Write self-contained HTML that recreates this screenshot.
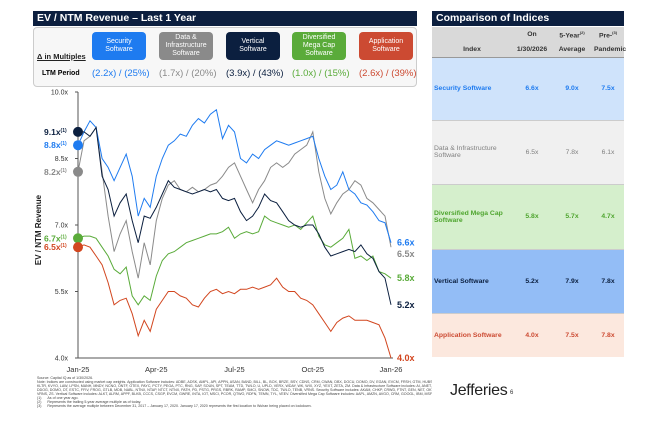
<!DOCTYPE html>
<html><head><meta charset="utf-8">
<style>
body{margin:0;width:655px;height:422px;background:#fff;font-family:"Liberation Sans",sans-serif;position:relative;overflow:hidden}
.abs{position:absolute}
.hdr{background:#0c1f3f;color:#fff;font-weight:bold;font-size:10.5px;line-height:15px;padding-left:4px}
.lg{position:absolute;top:32px;width:54px;height:28px;border-radius:4px;color:#fff;font-size:7px;line-height:8px;text-align:center;display:flex;align-items:center;justify-content:center}
.ltm{position:absolute;top:68px;font-size:9.5px}
.fn{position:absolute;left:37px;width:395px;overflow:hidden;font-size:3.6px;color:#444;white-space:nowrap;line-height:4px}
table{border-collapse:collapse;font-size:6.8px}
td{padding:0 2px}
</style></head><body>
<div class="abs hdr" style="left:33px;top:11px;width:380px;">EV / NTM Revenue – Last 1 Year</div>
<div class="abs" style="left:33px;top:27px;width:382px;height:58px;border:1px solid #ccc;border-radius:4px;background:#f7f7f7"></div>
<div class="abs" style="left:37px;top:52px;font-size:7.5px;font-weight:bold;text-decoration:underline;color:#222">Δ in Multiples</div>
<div class="lg" style="left:92px;background:#1e7bf0">Security<br>Software</div>
<div class="lg" style="left:159px;background:#8a8a8a">Data &amp;<br>Infrastructure<br>Software</div>
<div class="lg" style="left:226px;background:#0b1f3f">Vertical<br>Software</div>
<div class="lg" style="left:292px;background:#5aab3a">Diversified<br>Mega Cap<br>Software</div>
<div class="lg" style="left:359px;background:#cc4a32">Application<br>Software</div>
<div class="ltm" style="left:42px;font-size:7px;font-weight:bold;top:70px">LTM Period</div>
<div class="ltm" style="left:92px;color:#1e7bf0">(2.2x) / (25%)</div>
<div class="ltm" style="left:159px;color:#8a8a8a">(1.7x) / (20%)</div>
<div class="ltm" style="left:226px;color:#0b1f3f">(3.9x) / (43%)</div>
<div class="ltm" style="left:292px;color:#5aab3a">(1.0x) / (15%)</div>
<div class="ltm" style="left:359px;color:#cc4a32">(2.6x) / (39%)</div>

<svg class="abs" style="left:0;top:0" width="655" height="422">
<g id="plot"></g>
<text x="41" y="230" transform="rotate(-90 41 230)" text-anchor="middle" font-size="8" font-weight="bold" fill="#222">EV / NTM Revenue</text>
</svg>

<div class="abs hdr" style="left:432px;top:11px;width:188px;">Comparison of Indices</div>
<table class="abs" style="left:432px;top:27px;width:192px;table-layout:fixed">
<colgroup><col style="width:80px"><col style="width:40px"><col style="width:40px"><col style="width:32px"></colgroup>
<tr style="background:#d9d9d9;height:15px;font-weight:bold;color:#333;text-align:center"><td></td><td>On</td><td>5-Year<sup style="font-size:4px">(2)</sup></td><td>Pre-<sup style="font-size:4px">(3)</sup></td></tr>
<tr style="background:#d9d9d9;height:15px;font-weight:bold;color:#333;text-align:center;border-bottom:1px solid #999"><td>Index</td><td>1/30/2026</td><td>Average</td><td>Pandemic</td></tr>
<tr style="background:#cfe3fb;height:63px;color:#1e7bf0;font-weight:bold;text-align:center;border-bottom:1px solid #ccc"><td style="text-align:left">Security Software</td><td>6.6x</td><td>9.0x</td><td>7.5x</td></tr>
<tr style="background:#f0f0f0;height:64px;color:#808080;text-align:center;border-bottom:1px solid #ccc"><td style="text-align:left">Data &amp; Infrastructure Software</td><td>6.5x</td><td>7.8x</td><td>6.1x</td></tr>
<tr style="background:#d5efcc;height:65px;color:#4fa52f;font-weight:bold;text-align:center;border-bottom:1px solid #ccc"><td style="text-align:left">Diversified Mega Cap Software</td><td>5.8x</td><td>5.7x</td><td>4.7x</td></tr>
<tr style="background:#93bdf6;height:64px;color:#0b1f3f;font-weight:bold;text-align:center;border-bottom:1px solid #ccc"><td style="text-align:left">Vertical Software</td><td>5.2x</td><td>7.9x</td><td>7.8x</td></tr>
<tr style="background:#fce8de;height:44px;color:#cc4a32;font-weight:bold;text-align:center"><td style="text-align:left">Application Software</td><td>4.0x</td><td>7.5x</td><td>7.8x</td></tr>
</table>

<div class="fn" style="top:376px">Source: Capital IQ as of 1/30/2026.<br>Note: Indices are constructed using market cap weights. Application Software includes: ADBE, ADSK, AMPL, API, APPN, ASAN, BAND, BILL, BL, BOX, BRZE, BSY, CDNS, CRM, CWAN, DBX, DOCU, DOMO, DV, EGAN, EVCM, FRSH, GTM, HUBS, INTU, KVYO, FIVN, FROG<br>KLTR, KVYO, LAW, LPSN, MANH, MNDY, NCNO, ONTF, OTEX, PAYC, PCTY, PEGA, PTC, RNG, SAP, SOUN, SPT, TEAM, TTD, TWLO, U, UPLD, VERX, WDAY, WK, WIX, XYZ, YEXT, ZETA, ZM. Data & Infrastructure Software includes: AI, ANET,<br>DDOG, DOMO, DT, ESTC, FFIV, FROG, GTLB, MDB, NABL, NTNX, NTAP, NTCT, NTNX, PATH, PD, PSTG, PRGS, RBRK, RAMP, SMCI, SNOW, TDC, TWLO, TENB, VRNS. Security Software includes: AKAM, CHKP, CRWD, FTNT, GEN, NET, OKTA, PANW, QLYS, RPD, S, ZS<br>VRNS, ZS. Vertical Software includes: ALKT, ALRM, APPF, BLKB, CCCS, CSGP, EVCM, GWRE, INTA, IOT, MSCI, PCOR, QTWO, RDFN, TEMN, TYL, VEEV. Diversified Mega Cap Software includes: AAPL, AMZN, AVGO, CRM, GOOGL, IBM, MSFT, ORCL, SAP.<br>(1)&nbsp;&nbsp;&nbsp;&nbsp;&nbsp;&nbsp;As of one year ago.<br>(2)&nbsp;&nbsp;&nbsp;&nbsp;&nbsp;&nbsp;Represents the trailing 5-year average multiple as of today.<br>(3)&nbsp;&nbsp;&nbsp;&nbsp;&nbsp;&nbsp;Represents the average multiple between December 31, 2017 – January 17, 2020. January 17, 2020 represents the first location to Wuhan being placed on lockdown.</div>
<div class="abs" style="left:450px;top:382px;font-size:16px;color:#222;letter-spacing:-0.3px">Jefferies</div>
<div class="abs" style="left:510px;top:390px;font-size:6px;color:#333">6</div>

<script>
const xTickLabels=["Jan-25","Apr-25","Jul-25","Oct-25","Jan-26"];
const yTicks=[10.0,8.5,7.0,5.5,4.0];
const seriesNames=["Security Software","Data & Infrastructure Software","Vertical Software","Diversified Mega Cap Software","Application Software"];
const security=[8.8,9.1,9.35,9.2,8.5,8.3,8.0,8.3,8.6,8.1,7.2,7.6,7.4,8.1,8.5,8.8,8.9,9.05,9.0,9.25,9.4,9.3,9.5,9.6,8.95,9.25,9.1,8.5,8.4,8.6,8.5,8.7,8.8,8.9,8.85,8.8,8.85,8.9,8.95,9.0,8.5,8.1,7.8,7.9,8.2,7.8,7.7,7.5,7.45,7.3,7.1,7.05,6.6];
const dataInfra=[8.2,8.9,9.0,9.2,8.2,7.2,6.4,6.8,7.1,6.4,5.8,6.6,6.1,7.1,7.6,7.9,8.0,7.8,7.75,7.85,7.75,7.8,7.9,7.95,8.1,8.3,8.4,8.1,7.8,7.5,7.8,8.0,8.3,8.4,8.3,8.4,8.6,8.7,8.8,9.1,8.2,7.6,7.25,7.5,7.7,7.8,8.0,7.9,7.6,7.5,7.35,7.2,6.5];
const vertical=[9.1,9.1,9.0,9.2,8.1,7.8,7.2,7.5,7.7,7.1,6.6,7.2,7.15,7.4,7.7,8.0,7.85,7.8,7.75,7.7,7.75,7.8,7.75,7.8,7.6,7.55,7.6,7.3,7.1,7.2,7.4,7.7,7.55,7.5,7.3,7.1,7.0,6.95,7.0,7.0,6.8,6.5,6.3,6.35,6.4,6.45,6.4,6.55,6.35,6.25,5.95,5.8,5.2];
const diversified=[6.7,6.75,6.75,6.7,6.5,6.3,6.0,5.9,6.05,5.4,5.2,5.4,5.3,5.85,6.2,6.35,6.4,6.5,6.6,6.65,6.7,6.75,6.8,6.8,6.85,6.95,6.7,6.8,6.85,6.8,6.85,7.2,7.1,7.05,7.0,6.95,7.0,6.9,7.05,7.2,6.75,6.55,6.5,6.6,6.7,6.9,6.25,6.3,6.2,6.3,5.95,5.9,5.8];
const application=[6.5,6.55,6.5,6.3,6.1,5.7,5.2,5.3,5.35,5.0,4.5,4.85,4.6,5.1,5.3,5.5,5.5,5.4,5.35,5.2,5.15,5.35,5.5,5.55,5.45,5.5,5.45,5.55,5.55,5.6,5.55,5.6,5.65,5.8,5.6,5.5,5.5,5.35,5.3,5.2,5.0,4.8,4.6,4.8,4.9,4.95,4.85,4.85,4.85,4.8,4.75,4.45,4.0];
const startLabels=["8.8x","8.2x","9.1x","6.7x","6.5x"];
const endLabels=["6.6x","6.5x","5.2x","5.8x","4.0x"];

const X0=78,X1=391,Y0=92,Y1=358,YMIN=4,YMAX=10;
const colors=["#1e7bf0","#8a8a8a","#0b1f3f","#5aab3a","#d2461f"];
const all=[security,dataInfra,vertical,diversified,application];
function xs(i,n){return X0+(X1-X0)*i/(n-1);}
function ys(v){return Y1-(v-YMIN)/(YMAX-YMIN)*(Y1-Y0);}
const NS="http://www.w3.org/2000/svg";
const g=document.getElementById('plot');
function mk(t,a,txt){const e=document.createElementNS(NS,t);for(const k in a)e.setAttribute(k,a[k]);if(txt!==undefined)e.textContent=txt;g.appendChild(e);return e;}
let e=mk('line',{x1:X0,y1:Y0,x2:X0,y2:Y1,stroke:'#555','stroke-width':1});


e=mk('line',{x1:X0,y1:Y1,x2:X1+2,y2:Y1,stroke:'#555','stroke-width':1});


yTicks.forEach(v=>{
 const t=mk('text',{x:X0-10,y:ys(v)+2.5,'text-anchor':'end','font-size':7,fill:'#333'},v.toFixed(1)+'x');
 
 
 const l=mk('line',{x1:X0-3,y1:ys(v),x2:X0,y2:ys(v),stroke:'#555'});
 
 
});
xTickLabels.forEach((s,i)=>{
 const x=xs(i,xTickLabels.length);
 const t=mk('text',{x:x,y:372,'text-anchor':'middle','font-size':7.5,fill:'#333'},s);
 
 
});
const order=[1,3,0,4,2];
order.forEach(k=>{
 const d=all[k];
 const p=d.map((v,i)=>(i?'L':'M')+xs(i,d.length).toFixed(1)+','+ys(v).toFixed(1)).join('');
 const pa=mk('path',{d:p,fill:'none',stroke:colors[k],'stroke-width':1});
 
 
});
all.forEach((d,k)=>{
 const c=mk('circle',{cx:X0,cy:ys(d[0]),r:5,fill:colors[k]});
 
 
 const t=mk('text',{x:X0-34,y:ys(d[0])+3,'font-size':8.5,'font-weight':'bold',fill:colors[k]});
 t.textContent=startLabels[k];
 const s=document.createElementNS(NS,'tspan');s.setAttribute('font-size','5');s.setAttribute('dy','-3');s.textContent='(1)';t.appendChild(s);
 
 
 let ey=ys(d[d.length-1])+3;
 if(k===1)ey+=7;
 const et=mk('text',{x:X1+6,y:ey,'font-size':9,'font-weight':'bold',fill:colors[k]},endLabels[k]);
 
 
});
</script>
</body></html>
